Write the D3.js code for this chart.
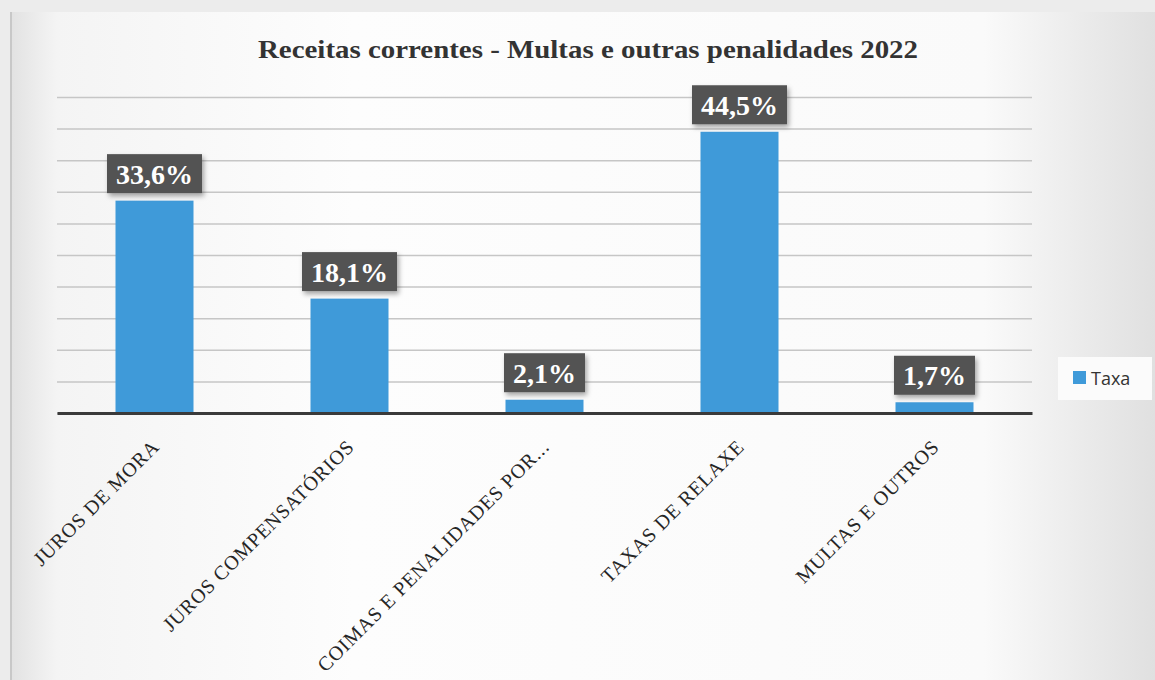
<!DOCTYPE html>
<html lang="pt">
<head><meta http-equiv="Content-Type" content="text/html; charset=UTF-8">
    <title>Receitas correntes - Multas e outras penalidades 2022</title>
    <style>
        body {
            margin: 0;
            background: #f4f4f4;
        }
        .title {
            font-family: "Liberation Serif", serif;
            font-weight: bold;
            font-size: 25px;
            fill: #333333;
        }
        .cat {
            font-family: "Liberation Serif", serif;
            font-size: 20px;
            letter-spacing: 0.8px;
            fill: #262626;
        }
        .val {
            font-family: "Liberation Serif", serif;
            font-weight: bold;
            font-size: 28px;
            fill: #ffffff;
        }
        .legend text {
            font-family: "Open Sans", "Liberation Sans", sans-serif;
            font-size: 18px;
            fill: #333;
        }
    </style>
</head>
<body>

<script src="https://cdn.jsdelivr.net/npm/d3@7"></script>

<script>

        var categories = ["JUROS DE MORA", "JUROS COMPENSATÓRIOS", "COIMAS E PENALIDADES POR...", "TAXAS DE RELAXE", "MULTAS E OUTROS"];
        var values = [0.336, 0.181, 0.021, 0.445, 0.017];
        var seriesName = "Taxa";
        var chartTitle = "Receitas correntes - Multas e outras penalidades 2022";

        var data = categories.map(function(c, i) { return { cat: c, v: values[i] }; });

        var W = 1155, H = 680;
        var margin = { top: 97, right: 123, bottom: 267, left: 57 };
        var width = W - margin.left - margin.right,
            height = H - margin.top - margin.bottom;

        var pt = d3.formatLocale({ decimal: ",", thousands: ".", grouping: [3], currency: ["", "€"] });
        var fmt = pt.format(".1%");

        var svg = d3.select("body").append("svg")
            .attr("width", W)
            .attr("height", H);

        var defs = svg.append("defs");
        var grad = defs.append("linearGradient").attr("id", "paper");
        grad.append("stop").attr("offset", "0").attr("stop-color", "#e2e2e2");
        grad.append("stop").attr("offset", "0.04").attr("stop-color", "#f4f4f4");
        grad.append("stop").attr("offset", "0.3").attr("stop-color", "#fdfdfd");
        grad.append("stop").attr("offset", "0.85").attr("stop-color", "#fafafa");
        grad.append("stop").attr("offset", "1").attr("stop-color", "#e0e0e0");

        var shadow = defs.append("filter").attr("id", "shadow")
            .attr("x", "-20%").attr("y", "-20%").attr("width", "150%").attr("height", "160%");
        shadow.append("feDropShadow")
            .attr("dx", 2).attr("dy", 3).attr("stdDeviation", 2.5)
            .attr("flood-color", "#000").attr("flood-opacity", 0.35);

        // paper background
        svg.append("rect").attr("width", W).attr("height", H).attr("fill", "#ececec");
        svg.append("rect")
            .attr("x", 11).attr("y", 12)
            .attr("width", W - 11).attr("height", H - 12)
            .attr("fill", "url(#paper)");
        svg.append("line")
            .attr("x1", 11).attr("x2", 11).attr("y1", 12).attr("y2", H)
            .attr("stroke", "#c8c8c8").attr("stroke-width", 2);

        var g = svg.append("g")
            .attr("transform", "translate(" + margin.left + "," + margin.top + ")");

        var x = d3.scaleBand()
            .domain(categories)
            .range([0, width])
            .paddingInner(0.6)
            .paddingOuter(0.3);

        var y = d3.scaleLinear()
            .domain([0, 0.5])
            .range([height, 0]);

        // grid lines
        g.append("g")
            .attr("class", "grid")
            .call(d3.axisLeft(y).ticks(10).tickSize(-width).tickFormat(""))
            .call(function(s) {
                s.select(".domain").remove();
                s.selectAll("line").attr("stroke", "#c6c6c6").attr("stroke-width", 1.5);
            });

        // bars
        g.selectAll(".bar")
            .data(data)
          .enter().append("rect")
            .attr("class", "bar")
            .attr("x", function(d) { return x(d.cat); })
            .attr("y", function(d) { return y(d.v); })
            .attr("width", x.bandwidth())
            .attr("height", function(d) { return height - y(d.v); })
            .attr("fill", "#3f9ad9");

        // x axis
        var xAxis = g.append("g")
            .attr("transform", "translate(0," + height + ")")
            .call(d3.axisBottom(x).tickSize(0).tickFormat(""));
        xAxis.select(".domain").attr("stroke", "#3a3a3a").attr("stroke-width", 3);

        g.selectAll(".cat")
            .data(data)
          .enter().append("text")
            .attr("class", "cat")
            .attr("text-anchor", "end")
            .attr("transform", function(d) {
                return "translate(" + (x(d.cat) + x.bandwidth() / 2 + 6) + "," + (height + 35) + ") rotate(-45)";
            })
            .text(function(d) { return d.cat; });

        // value labels
        var lab = g.selectAll(".lab")
            .data(data)
          .enter().append("g")
            .attr("class", "lab")
            .attr("transform", function(d) {
                return "translate(" + (x(d.cat) + x.bandwidth() / 2) + "," + (y(d.v) - 27) + ")";
            });

        lab.append("rect")
            .attr("fill", "#525252")
            .attr("filter", "url(#shadow)");

        lab.append("text")
            .attr("class", "val")
            .attr("text-anchor", "middle")
            .attr("y", 10)
            .text(function(d) { return fmt(d.v); });

        lab.each(function() {
            var t = d3.select(this).select("text").node();
            var w = t.getComputedTextLength() + 18;
            d3.select(this).select("rect")
                .attr("x", -w / 2).attr("y", -19.5)
                .attr("width", w).attr("height", 39);
        });

        // title
        svg.append("text")
            .attr("class", "title")
            .attr("x", 588)
            .attr("y", 58)
            .attr("text-anchor", "middle")
            .attr("textLength", 660)
            .attr("lengthAdjust", "spacingAndGlyphs")
            .text(chartTitle);

        // legend
        var legend = svg.append("g")
            .attr("class", "legend")
            .attr("transform", "translate(1058,357)");
        legend.append("rect")
            .attr("width", 94).attr("height", 43)
            .attr("fill", "#fbfbfb");
        legend.append("rect")
            .attr("x", 15).attr("y", 14)
            .attr("width", 13).attr("height", 13)
            .attr("fill", "#3f9ad9");
        legend.append("text")
            .attr("x", 33).attr("y", 28)
            .text(seriesName);

</script>

</body></html>
